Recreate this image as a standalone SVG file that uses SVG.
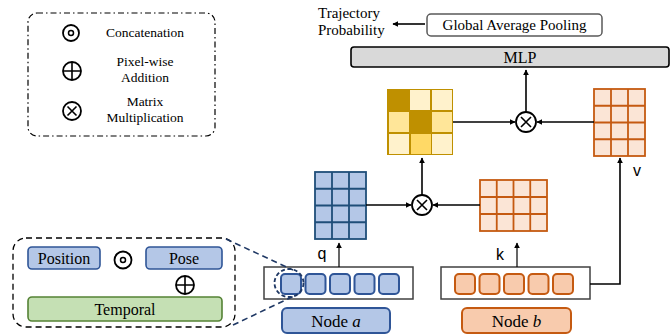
<svg xmlns="http://www.w3.org/2000/svg" width="670" height="335" viewBox="0 0 670 335">
<defs>
<marker id="ah" viewBox="0 0 10 10" refX="9" refY="5" markerWidth="6" markerHeight="6" orient="auto" markerUnits="userSpaceOnUse">
<path d="M0,0 L10,5 L0,10 z" fill="#000"/>
</marker>
<style>
.serif{font-family:"Liberation Serif","Times New Roman",serif;fill:#000}
.sans{font-family:"Liberation Sans",Arial,sans-serif;fill:#000}
.ln{stroke:#000;stroke-width:1.6;fill:none}
.sym{stroke:#000;stroke-width:1.8;fill:#fff}
.bcell{fill:#B4C7E7;stroke:#2F5597;stroke-width:2}
.ocell{fill:#F8CBAD;stroke:#C55A11;stroke-width:2}
.qm{fill:#B4C7E7;stroke:#1F4E79;stroke-width:1.8}
.om{fill:#FBE5D6;stroke:#C55A11;stroke-width:1.8}
</style>
</defs>

<!-- Legend -->
<g id="legend">
<rect x="28" y="13" width="187" height="123" rx="9" fill="none" stroke="#000" stroke-width="1.2" stroke-dasharray="6,3,1.5,3"/>
<circle cx="71" cy="33" r="8" class="sym"/>
<circle cx="71" cy="33" r="2.5" fill="none" stroke="#000" stroke-width="1.5"/>
<text x="145" y="37" class="serif" font-size="13.5" text-anchor="middle">Concatenation</text>
<circle cx="72" cy="71" r="9" class="sym"/>
<path d="M63,71 H81 M72,62 V80" class="ln" stroke-width="1.8"/>
<text x="145" y="66" class="serif" font-size="13.5" text-anchor="middle">Pixel-wise</text>
<text x="145" y="82" class="serif" font-size="13.5" text-anchor="middle">Addition</text>
<circle cx="72" cy="111" r="9" class="sym"/>
<path d="M67.5,106.5 L76.5,115.5 M76.5,106.5 L67.5,115.5" class="ln" stroke-width="2.2"/>
<text x="145" y="106" class="serif" font-size="13.5" text-anchor="middle">Matrix</text>
<text x="145" y="122" class="serif" font-size="13.5" text-anchor="middle">Multiplication</text>
</g>

<!-- Top -->
<g id="trajectory">
<text x="318" y="18" class="serif" font-size="15">Trajectory</text>
<text x="318" y="35" class="serif" font-size="15">Probability</text>
</g>
<g id="gap">
<rect x="427" y="14" width="175" height="22" rx="4" fill="#fff" stroke="#595959" stroke-width="1.5"/>
<text x="514.5" y="30" class="serif" font-size="15" text-anchor="middle">Global Average Pooling</text>
</g>
<g id="mlp">
<rect x="351" y="47" width="318" height="20" rx="3" fill="#D9D9D9" stroke="#000" stroke-width="1.6"/>
<text x="520" y="62.5" class="serif" font-size="16" text-anchor="middle">MLP</text>
</g>

<!-- Attention matrix (yellow) -->
<g id="attn">
<rect x="387" y="89" width="66" height="66" fill="#BF9000"/>
<rect x="388" y="90" width="21" height="21" fill="#BF9000"/>
<rect x="410" y="90" width="20" height="20" fill="#FFF2CC"/>
<rect x="432" y="90" width="20" height="20" fill="#FFF2CC"/>
<rect x="389" y="112" width="20" height="20" fill="#FFE699"/>
<rect x="410" y="111" width="21" height="21" fill="#BF9000"/>
<rect x="432" y="112" width="20" height="20" fill="#FFE699"/>
<rect x="389" y="134" width="20" height="20" fill="#FFF2CC"/>
<rect x="411" y="134" width="20" height="20" fill="#FFD966"/>
<rect x="432" y="134" width="20" height="20" fill="#FFF2CC"/>
</g>

<!-- v matrix -->
<g id="vmat">
<rect x="594" y="89" width="51" height="67" class="om"/>
<path d="M611,89 V156 M628,89 V156 M594,105.75 H645 M594,122.5 H645 M594,139.25 H645" stroke="#C55A11" stroke-width="1.8"/>
</g>

<!-- q matrix -->
<g id="qmat">
<rect x="315" y="172" width="51" height="67" class="qm"/>
<path d="M332,172 V239 M349,172 V239 M315,188.75 H366 M315,205.5 H366 M315,222.25 H366" stroke="#1F4E79" stroke-width="1.8"/>
</g>

<!-- k matrix -->
<g id="kmat">
<rect x="480" y="180" width="67" height="51" class="om"/>
<path d="M496.75,180 V231 M513.5,180 V231 M530.25,180 V231 M480,197 H547 M480,214 H547" stroke="#C55A11" stroke-width="1.8"/>
</g>

<!-- multiplication nodes -->
<g id="mul1">
<circle cx="526" cy="122" r="10" class="sym"/>
<path d="M521,117 L531,127 M531,117 L521,127" class="ln" stroke-width="2.2"/>
</g>
<g id="mul2">
<circle cx="422" cy="205" r="10" class="sym"/>
<path d="M417,200 L427,210 M427,200 L417,210" class="ln" stroke-width="2.2"/>
</g>

<!-- Node a -->
<g id="node-a">
<rect x="264" y="267" width="149" height="32" fill="#fff" stroke="#404040" stroke-width="1.5"/>
<rect x="281" y="274" width="20" height="20" rx="4" class="bcell"/>
<rect x="305.5" y="274" width="20" height="20" rx="4" class="bcell"/>
<rect x="330" y="274" width="20" height="20" rx="4" class="bcell"/>
<rect x="354.5" y="274" width="20" height="20" rx="4" class="bcell"/>
<rect x="379" y="274" width="20" height="20" rx="4" class="bcell"/>
<ellipse cx="289" cy="283" rx="14.5" ry="14" fill="none" stroke="#1F3864" stroke-width="1.8" stroke-dasharray="4,2.5"/>
</g>
<g id="label-a">
<rect x="282" y="308" width="108" height="25" rx="5" fill="#B4C7E7" stroke="#2F5597" stroke-width="2"/>
<text x="336" y="326.5" class="serif" font-size="17" text-anchor="middle">Node <tspan font-style="italic">a</tspan></text>
</g>

<!-- Node b -->
<g id="node-b">
<rect x="441" y="267" width="149" height="32" fill="#fff" stroke="#404040" stroke-width="1.5"/>
<rect x="455" y="274" width="20" height="20" rx="4" class="ocell"/>
<rect x="479.5" y="274" width="20" height="20" rx="4" class="ocell"/>
<rect x="504" y="274" width="20" height="20" rx="4" class="ocell"/>
<rect x="528.5" y="274" width="20" height="20" rx="4" class="ocell"/>
<rect x="553" y="274" width="20" height="20" rx="4" class="ocell"/>
</g>
<g id="label-b">
<rect x="462" y="308" width="109" height="25" rx="5" fill="#F8CBAD" stroke="#C55A11" stroke-width="2"/>
<text x="516.5" y="326.5" class="serif" font-size="17" text-anchor="middle">Node <tspan font-style="italic">b</tspan></text>
</g>

<!-- detail of embedding -->
<g id="detail">
<rect x="13" y="238" width="222" height="89" rx="13" fill="none" stroke="#000" stroke-width="1.3" stroke-dasharray="6,4"/>
<rect x="28" y="247" width="72" height="22" rx="4" fill="#B4C7E7" stroke="#2F5597" stroke-width="1.6"/>
<text x="64" y="263.5" class="serif" font-size="16" text-anchor="middle">Position</text>
<circle cx="123" cy="260" r="8.5" class="sym"/>
<circle cx="123" cy="260" r="2.5" fill="none" stroke="#000" stroke-width="1.5"/>
<rect x="146" y="247" width="76" height="22" rx="4" fill="#B4C7E7" stroke="#2F5597" stroke-width="1.6"/>
<text x="184" y="263.5" class="serif" font-size="16" text-anchor="middle">Pose</text>
<circle cx="185" cy="285" r="9" class="sym"/>
<path d="M176,285 H194 M185,276 V294" class="ln" stroke-width="1.8"/>
<rect x="28" y="297" width="194" height="24" rx="4" fill="#C5E0B4" stroke="#548235" stroke-width="1.6"/>
<text x="125" y="314.5" class="serif" font-size="16" text-anchor="middle">Temporal</text>
</g>

<!-- labels q k v -->
<g id="qkv">
<text x="322" y="259" class="sans" font-size="16" text-anchor="middle">q</text>
<text x="500" y="260" class="sans" font-size="16" text-anchor="middle">k</text>
<text x="637" y="176" class="sans" font-size="16" text-anchor="middle">v</text>
</g>

<!-- connectors -->
<g id="connectors">
<line x1="425" y1="24" x2="393" y2="24" class="ln" marker-end="url(#ah)"/>
<line x1="526" y1="112" x2="526" y2="70" class="ln" marker-end="url(#ah)"/>
<line x1="453" y1="122" x2="515" y2="122" class="ln" marker-end="url(#ah)"/>
<line x1="594" y1="122" x2="537" y2="122" class="ln" marker-end="url(#ah)"/>
<polyline points="590,284 620,284 620,158" class="ln" stroke-width="2" marker-end="url(#ah)"/>
<line x1="422" y1="195" x2="422" y2="158" class="ln" marker-end="url(#ah)"/>
<line x1="366" y1="205" x2="411" y2="205" class="ln" marker-end="url(#ah)"/>
<line x1="480" y1="205" x2="433" y2="205" class="ln" marker-end="url(#ah)"/>
<line x1="339" y1="267" x2="339" y2="243" stroke="#000" stroke-width="1.2" marker-end="url(#ah)"/>
<line x1="517" y1="267" x2="517" y2="243" stroke="#000" stroke-width="1.2" marker-end="url(#ah)"/>
<line x1="226" y1="239" x2="293" y2="270" stroke="#1F3864" stroke-width="1.6" stroke-dasharray="6,4"/>
<line x1="233" y1="325" x2="294" y2="296" stroke="#1F3864" stroke-width="1.6" stroke-dasharray="6,4"/>
</g>
</svg>
